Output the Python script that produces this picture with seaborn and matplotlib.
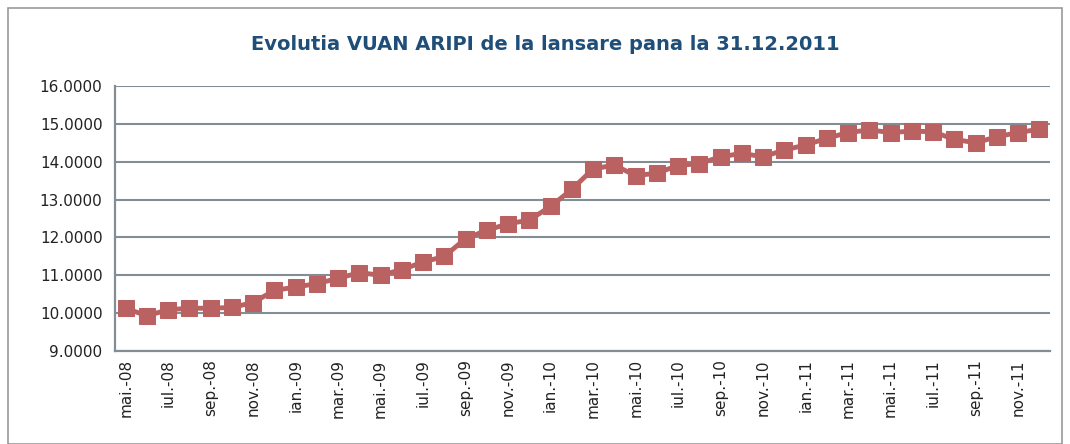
import seaborn as sns
import matplotlib.pyplot as plt
import pandas as pd
from matplotlib.patches import Rectangle

# monthly VUAN, mai-08 .. dec-11
luni = ['mai', 'iun', 'iul', 'aug', 'sep', 'oct', 'nov', 'dec',
        'ian', 'feb', 'mar', 'apr']
ani = ['08'] * 8 + ['09'] * 12 + ['10'] * 12 + ['11'] * 12
etichete = [luni[i % 12] + '.-' + a for i, a in enumerate(ani)]

vuan = [10.13, 9.93, 10.09, 10.13, 10.13, 10.15, 10.28, 10.60,
        10.69, 10.78, 10.92, 11.07, 11.00, 11.15, 11.35, 11.50,
        11.97, 12.19, 12.36, 12.46, 12.82, 13.27, 13.81, 13.91,
        13.63, 13.70, 13.90, 13.95, 14.13, 14.22, 14.13, 14.31,
        14.44, 14.62, 14.77, 14.84, 14.77, 14.81, 14.79, 14.59,
        14.50, 14.66, 14.77, 14.86]

df = pd.DataFrame({'idx': range(len(vuan)), 'luna': etichete, 'vuan': vuan})

sns.set_style('white')
plt.rcParams['font.family'] = ['DejaVu Sans']

fig = plt.figure(figsize=(10.7, 4.44), dpi=100)
ax = fig.add_axes([115 / 1070, 1 - 351 / 444, 935 / 1070, 265 / 444])

sns.lineplot(data=df, x='idx', y='vuan', ax=ax, color='#BA6262', linewidth=3.5,
             marker='s', markersize=11, markeredgecolor='#BA6262', zorder=3)

ax.set_xlim(-0.5, len(vuan) - 0.5)
ax.set_ylim(9, 16)
ax.set_yticks(range(9, 17))
ax.set_yticklabels(['%.4f' % v for v in range(9, 17)], fontsize=11, color='#222222')
ax.yaxis.grid(True, color='#848C94', linewidth=1.5)
ax.set_axisbelow(True)

ax.set_xticks(range(0, len(vuan), 2))
ax.set_xticklabels(etichete[::2], rotation=90, fontsize=11, color='#222222')
ax.tick_params(axis='x', which='major', length=0, pad=6)
ax.set_xticks([i - 0.5 for i in range(0, len(vuan) + 1, 2)], minor=True)
ax.tick_params(axis='x', which='minor', length=5, color='#848C94', width=1.5)
ax.tick_params(axis='y', length=5, color='#848C94', width=1.5, pad=4)

for s in ['top', 'right']:
    ax.spines[s].set_visible(False)
for s in ['left', 'bottom']:
    ax.spines[s].set_color('#848C94')
    ax.spines[s].set_linewidth(1.6)

ax.set_xlabel('')
ax.set_ylabel('')

fig.text(545 / 1070, 1 - 45 / 444, 'Evolutia VUAN ARIPI de la lansare pana la 31.12.2011',
         ha='center', va='center', fontsize=14, fontweight='bold', color='#1F4E79')

fig.patches.append(Rectangle((8 / 1070, 0.0), 1054 / 1070, 1 - 8 / 444,
                             transform=fig.transFigure, fill=False,
                             edgecolor='#999999', linewidth=1.2))

fig.savefig('out.png', dpi=100)
